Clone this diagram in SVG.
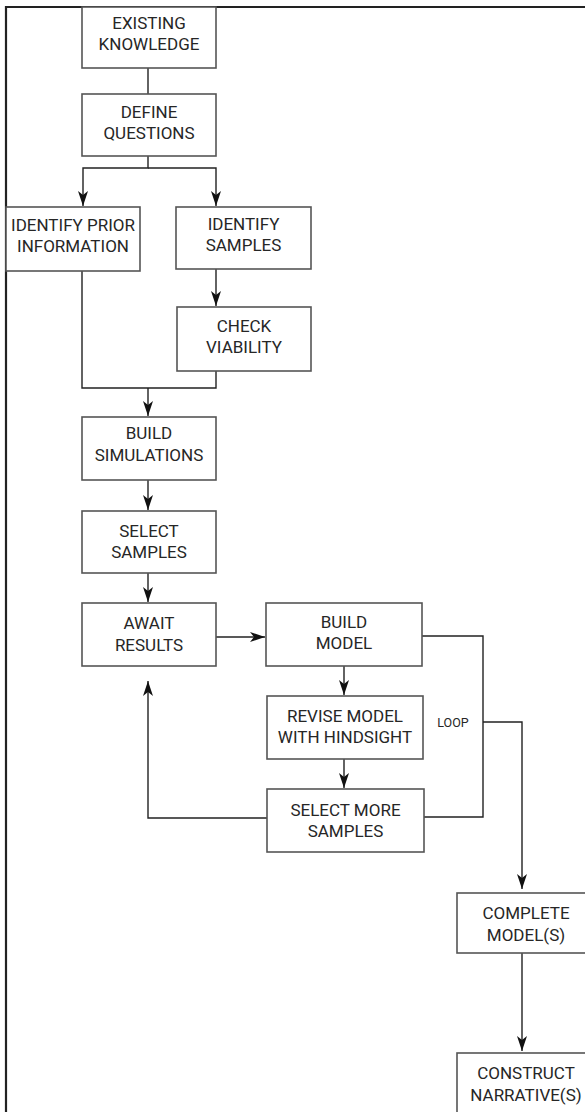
<svg xmlns="http://www.w3.org/2000/svg" width="585" height="1112" viewBox="0 0 585 1112">
<style>
.box{fill:#fff;stroke:#555;stroke-width:1.6}
.t{font-family:Roboto,"Liberation Sans",sans-serif;font-size:17px;fill:#262626;text-anchor:middle}
.s{font-family:Roboto,"Liberation Sans",sans-serif;font-size:12.5px;fill:#262626;text-anchor:middle}
.ln{fill:none;stroke:#222;stroke-width:1.4}
.ar{fill:none;stroke:#222;stroke-width:1.4;marker-end:url(#ah)}
.frame{fill:none;stroke:#222;stroke-width:2.2}
</style>
<defs>
<marker id="ah" viewBox="0 0 15 10" refX="15" refY="5" markerWidth="15" markerHeight="10" markerUnits="userSpaceOnUse" orient="auto">
<path d="M0,0 L15,5 L0,10 L4,5 z" fill="#111"/>
</marker>
</defs>
<rect width="585" height="1112" fill="#fff"/>
<path class="frame" d="M6,1112 V7 H585"/>
<g id="connectors">
<path class="ln" d="M148,68 V94"/>
<path class="ar" d="M148,156 V168 H83 V206"/>
<path class="ar" d="M148,168 H216 V206"/>
<path class="ar" d="M216,269 V306"/>
<path class="ln" d="M82,271 V388 H216 V371"/>
<path class="ar" d="M148,388 V416"/>
<path class="ar" d="M148,480 V510"/>
<path class="ar" d="M148,573 V602"/>
<path class="ar" d="M216,637 H265"/>
<path class="ar" d="M344,666 V695"/>
<path class="ar" d="M344,759 V788"/>
<path class="ar" d="M267,818 H148 V681"/>
<path class="ln" d="M422,636 H483 V817 H424"/>
<path class="ar" d="M483,722 H522 V889"/>
<path class="ar" d="M522,953 V1051"/>
</g>
<g id="n-existing"><rect class="box" x="82" y="7" width="134" height="61"/><text class="t" x="149" y="29">EXISTING</text><text class="t" x="149" y="50">KNOWLEDGE</text></g>
<g id="n-define"><rect class="box" x="82" y="94" width="134" height="62"/><text class="t" x="149" y="118">DEFINE</text><text class="t" x="149" y="139">QUESTIONS</text></g>
<g id="n-prior"><rect class="box" x="6" y="207" width="134" height="64"/><text class="t" x="73" y="231">IDENTIFY PRIOR</text><text class="t" x="73" y="252">INFORMATION</text></g>
<g id="n-samples"><rect class="box" x="176" y="207" width="135" height="62"/><text class="t" x="243.5" y="230">IDENTIFY</text><text class="t" x="243.5" y="251">SAMPLES</text></g>
<g id="n-viability"><rect class="box" x="177" y="307" width="134" height="64"/><text class="t" x="244" y="332">CHECK</text><text class="t" x="244" y="353">VIABILITY</text></g>
<g id="n-buildsim"><rect class="box" x="82" y="417" width="134" height="63"/><text class="t" x="149" y="439">BUILD</text><text class="t" x="149" y="461">SIMULATIONS</text></g>
<g id="n-select"><rect class="box" x="82" y="511" width="134" height="62"/><text class="t" x="149" y="537">SELECT</text><text class="t" x="149" y="558">SAMPLES</text></g>
<g id="n-await"><rect class="box" x="82" y="603" width="134" height="63"/><text class="t" x="149" y="629">AWAIT</text><text class="t" x="149" y="651">RESULTS</text></g>
<g id="n-buildmodel"><rect class="box" x="266" y="603" width="156" height="63"/><text class="t" x="344" y="628">BUILD</text><text class="t" x="344" y="649">MODEL</text></g>
<g id="n-revise"><rect class="box" x="267" y="696" width="156" height="63"/><text class="t" x="345" y="722">REVISE MODEL</text><text class="t" x="345" y="743">WITH HINDSIGHT</text></g>
<g id="n-selectmore"><rect class="box" x="267" y="789" width="157" height="63"/><text class="t" x="345.5" y="816">SELECT MORE</text><text class="t" x="345.5" y="837">SAMPLES</text></g>
<g id="loop-label"><text class="s" x="453" y="727">LOOP</text></g>
<g id="n-complete"><rect class="box" x="457" y="893" width="138" height="60"/><text class="t" x="526" y="919">COMPLETE</text><text class="t" x="526" y="941">MODEL(S)</text></g>
<g id="n-construct"><rect class="box" x="457" y="1053" width="138" height="70"/><text class="t" x="526" y="1079">CONSTRUCT</text><text class="t" x="526" y="1101">NARRATIVE(S)</text></g>
</svg>
